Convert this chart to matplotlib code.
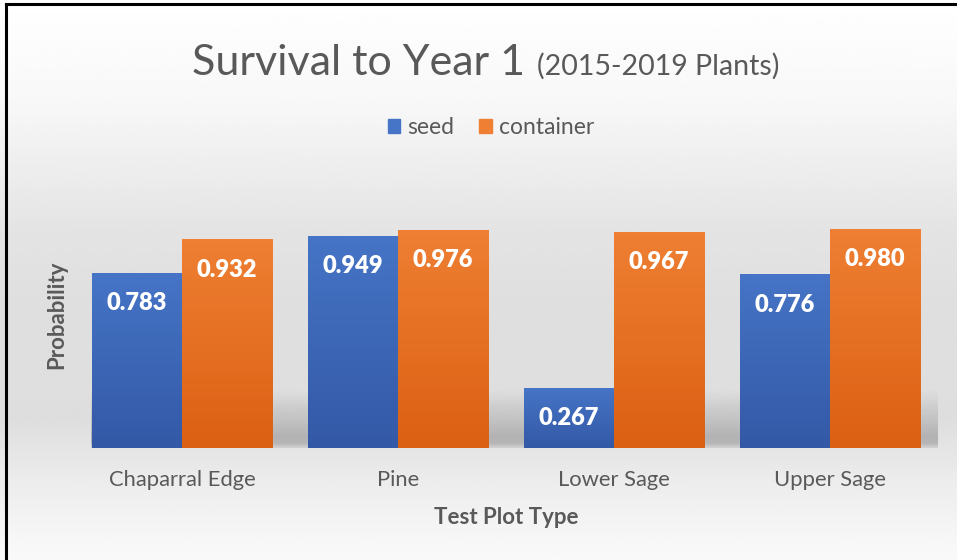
import matplotlib.pyplot as plt
import numpy as np
from matplotlib.colors import LinearSegmentedColormap
from matplotlib.patches import Patch

plt.rcParams["font.family"] = ["Lato", "DejaVu Sans"]

# chart values
categories = ["Chaparral Edge", "Pine", "Lower Sage", "Upper Sage"]
seed = [0.783, 0.949, 0.267, 0.776]
container = [0.932, 0.976, 0.967, 0.980]
series_names = ["seed", "container"]

GRAY = "#595959"
BLUE_TOP, BLUE_BOT = "#4674c6", "#3359a6"
ORANGE_TOP, ORANGE_BOT = "#ee7f33", "#dc6013"

fig = plt.figure(figsize=(9.57, 5.6), dpi=100)

# background: soft vertical gray gradient, white at top and bottom
bg = fig.add_axes([0, 0, 1, 1], zorder=-10)
bg_levels = np.interp(np.linspace(0, 560, 300),
                      [0, 100, 230, 300, 420, 480, 560],
                      [255, 248, 228, 223, 222, 236, 250]) / 255.0
bg.imshow(np.repeat(bg_levels[:, None], 2, axis=1), cmap="gray", vmin=0, vmax=1,
          aspect="auto", extent=(0, 1, 0, 1), interpolation="bicubic")
bg.set_xlim(0, 1)
bg.set_ylim(0, 1)
bg.axis("off")
# chart frame: left and top edges only are visible
bg.plot([6 / 957, 6 / 957], [0, 1 - 4 / 560], color="black", lw=2.2)
bg.plot([6 / 957, 1], [1 - 4 / 560, 1 - 4 / 560], color="black", lw=2.2)

ax = fig.add_axes([74 / 957, 112 / 560, 864 / 957, 268 / 560])
ax.patch.set_alpha(0)

x = np.arange(len(categories))
w = 0.4167
ax.set_xlim(-0.5, len(categories) - 0.5)
ax.set_ylim(0, 1.2)

# floor shadow behind the bars
shadow_prof = np.interp(np.linspace(0, 0.26, 100), [0, 0.02, 0.05, 0.12, 0.26],
                        [0.08, 0.20, 0.21, 0.13, 0.0])
shadow = np.zeros((100, 2, 4))
shadow[:, :, 3] = shadow_prof[::-1, None]
ax.imshow(shadow, extent=(-0.42, 3.5, 0, 0.26), aspect="auto",
          interpolation="bicubic", zorder=1)

bars_seed = ax.bar(x - w / 2, seed, w, color="none", zorder=2)
bars_cont = ax.bar(x + w / 2, container, w, color="none", zorder=2)


def gradient_fill(bars, top, bottom):
    cmap = LinearSegmentedColormap.from_list("g", [bottom, top])
    grad = np.linspace(0, 1, 64)[:, None]
    for b in bars:
        x0, y0 = b.get_x(), b.get_y()
        ax.imshow(grad, cmap=cmap, origin="lower", aspect="auto",
                  extent=(x0, x0 + b.get_width(), y0, y0 + b.get_height()),
                  zorder=3)
        ax.annotate(f"{b.get_height():.3f}", (x0 + b.get_width() / 2, b.get_height()),
                    xytext=(0, -21.5), textcoords="offset points", ha="center",
                    va="center", color="white", fontsize=17, fontweight="heavy",
                    zorder=4)


gradient_fill(bars_seed, BLUE_TOP, BLUE_BOT)
gradient_fill(bars_cont, ORANGE_TOP, ORANGE_BOT)

ax.set_xlim(-0.5, len(categories) - 0.5)
ax.set_ylim(0, 1.2)
ax.set_xticks(x)
ax.set_xticklabels(categories, fontsize=15.8, color=GRAY)
ax.set_yticks([])
ax.tick_params(axis="x", length=0, pad=16)
for s in ax.spines.values():
    s.set_visible(False)

fig.text(57 / 957, 1 - 315 / 560, "Probability", rotation=90, ha="center",
         va="center", fontsize=16, fontweight="bold", color=GRAY)
fig.text(506 / 957, 1 - 517 / 560, "Test Plot Type", ha="center", va="center",
         fontsize=16, fontweight="bold", color=GRAY)

fig.text(192 / 957, 1 - 75 / 560, "Survival to Year 1", ha="left",
         va="baseline", fontsize=31, color=GRAY)
fig.text(537 / 957, 1 - 75 / 560, "(2015-2019 Plants)", ha="left",
         va="baseline", fontsize=20.5, color=GRAY)

handles = [Patch(color=BLUE_TOP, label=series_names[0]),
           Patch(color=ORANGE_TOP, label=series_names[1])]
fig.legend(handles=handles, loc="center", bbox_to_anchor=(491 / 957, 1 - 128 / 560),
           ncol=2, frameon=False, fontsize=16.5, handlelength=0.55,
           handleheight=0.55, handletextpad=0.3, columnspacing=1.1,
           labelcolor=GRAY)

fig.savefig("out.png", dpi=100)
